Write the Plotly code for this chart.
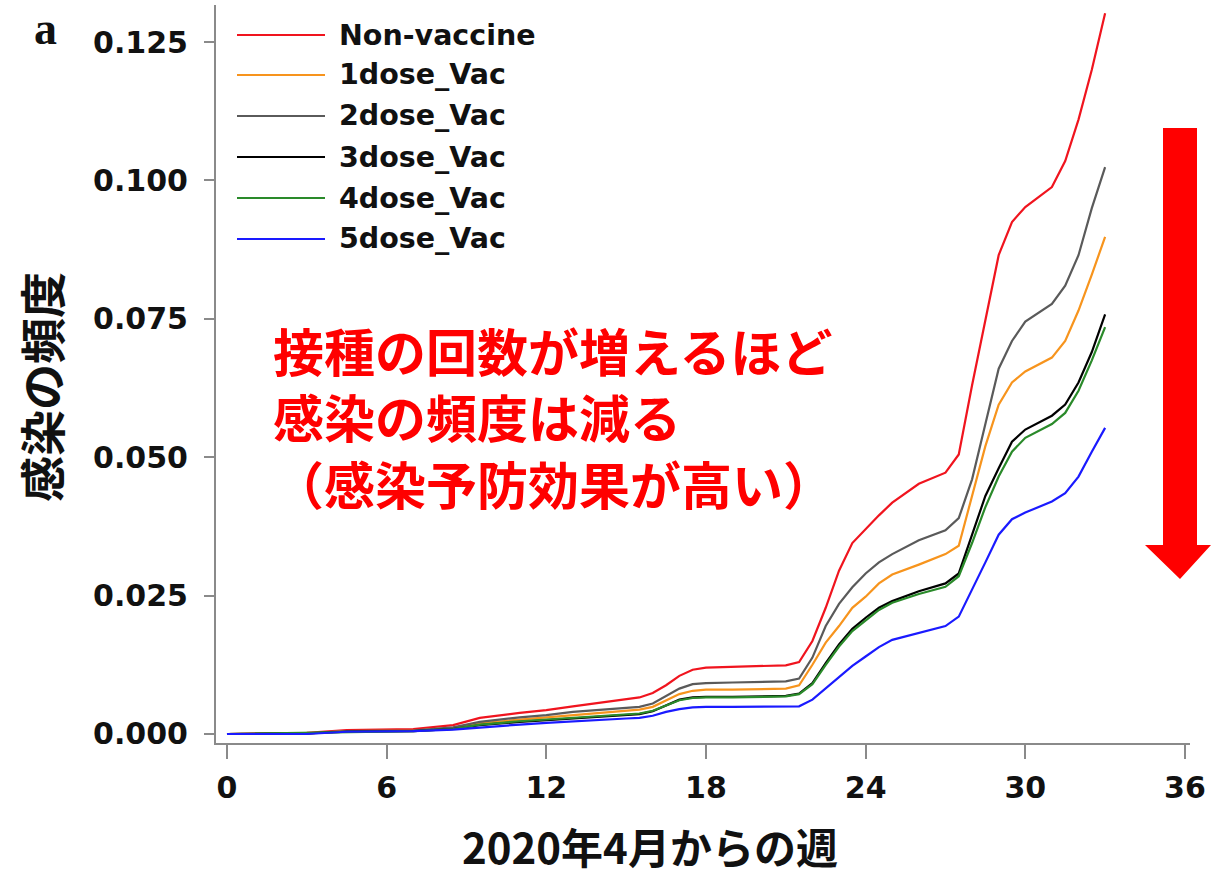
import plotly.graph_objects as go

# Weeks since April 2020 at which the cumulative infection frequency is sampled
weeks = [0, 3, 4.5, 7, 8.5, 9.5, 11, 12, 13, 14, 15, 15.5, 16, 16.5, 17, 17.5,
         18, 19, 20, 21, 21.5, 22, 22.5, 23, 23.5, 24, 24.5, 25, 26, 27, 27.5,
         28, 28.5, 29, 29.5, 30, 31, 31.5, 32, 32.5, 33]

non_vaccine = [0, 0.0002, 0.0007, 0.0009, 0.0016, 0.0029, 0.0038, 0.0043, 0.0050,
               0.0056, 0.0063, 0.0066, 0.0074, 0.0088, 0.0105, 0.0116, 0.0120,
               0.0121, 0.0122, 0.0124, 0.0130, 0.0168, 0.0228, 0.0295, 0.0345,
               0.0370, 0.0395, 0.0418, 0.0452, 0.0472, 0.0505, 0.0630, 0.0750,
               0.0865, 0.0925, 0.0952, 0.0988, 0.1035, 0.1110, 0.1200, 0.1302]
dose1 = [0, 0.0001, 0.0005, 0.0006, 0.0011, 0.0019, 0.0026, 0.0030, 0.0035,
         0.0039, 0.0042, 0.0044, 0.0049, 0.0060, 0.0072, 0.0078, 0.0080, 0.0080,
         0.0081, 0.0082, 0.0088, 0.0125, 0.0165, 0.0195, 0.0228, 0.0248, 0.0272,
         0.0288, 0.0306, 0.0325, 0.0340, 0.0430, 0.0520, 0.0595, 0.0635, 0.0655,
         0.0680, 0.0710, 0.0765, 0.0830, 0.0898]
dose2 = [0, 0.0001, 0.0005, 0.0006, 0.0012, 0.0022, 0.0030, 0.0034, 0.0040,
         0.0044, 0.0047, 0.0049, 0.0055, 0.0068, 0.0082, 0.0090, 0.0092, 0.0093,
         0.0094, 0.0095, 0.0100, 0.0138, 0.0195, 0.0235, 0.0265, 0.0290, 0.0310,
         0.0325, 0.0350, 0.0368, 0.0390, 0.0460, 0.0560, 0.0660, 0.0710, 0.0745,
         0.0777, 0.0810, 0.0865, 0.0950, 0.1024]
dose3 = [0, 0.0001, 0.0004, 0.0005, 0.0009, 0.0016, 0.0022, 0.0025, 0.0029,
         0.0032, 0.0034, 0.0036, 0.0041, 0.0052, 0.0062, 0.0066, 0.0067, 0.0067,
         0.0068, 0.0069, 0.0073, 0.0092, 0.0128, 0.0162, 0.0190, 0.0210, 0.0228,
         0.0240, 0.0258, 0.0272, 0.0290, 0.0360, 0.0430, 0.0480, 0.0528, 0.0550,
         0.0575, 0.0595, 0.0635, 0.0690, 0.0758]
dose4 = [0, 0.0002, 0.0004, 0.0005, 0.0009, 0.0017, 0.0023, 0.0026, 0.0030,
         0.0033, 0.0035, 0.0037, 0.0042, 0.0052, 0.0061, 0.0065, 0.0066, 0.0066,
         0.0067, 0.0068, 0.0072, 0.0090, 0.0125, 0.0158, 0.0186, 0.0205, 0.0224,
         0.0237, 0.0253, 0.0266, 0.0285, 0.0345, 0.0410, 0.0465, 0.0510, 0.0535,
         0.0560, 0.0580, 0.0620, 0.0675, 0.0735]
dose5 = [0, 0, 0.0004, 0.0005, 0.0008, 0.0012, 0.0017, 0.0020, 0.0023, 0.0025,
         0.0028, 0.0029, 0.0033, 0.0040, 0.0045, 0.0048, 0.0049, 0.0049, 0.0049,
         0.0049, 0.0050, 0.0062, 0.0082, 0.0102, 0.0123, 0.0140, 0.0157, 0.0170,
         0.0183, 0.0195, 0.0212, 0.0260, 0.0310, 0.0360, 0.0388, 0.0400, 0.0420,
         0.0435, 0.0465, 0.0510, 0.0553]

series_names = ["Non-vaccine", "1dose_Vac", "2dose_Vac", "3dose_Vac", "4dose_Vac", "5dose_Vac"]
series_values = [non_vaccine, dose1, dose2, dose3, dose4, dose5]
series_colors = ["#f0141e", "#f7941d", "#5a5a5a", "#000000", "#2a8a2a", "#1a1aff"]

x_ticks = [0, 6, 12, 18, 24, 30, 36]
y_ticks = [0.000, 0.025, 0.050, 0.075, 0.100, 0.125]

note_lines = ["接種の回数が増えるほど", "感染の頻度は減る", "（感染予防効果が高い）"]
x_title = "2020年4月からの週"
y_title = "感染の頻度"
panel_label = "a"

W, H = 1211, 875
L, R, T, B = 216, 21, 5, 132
PW, PH = W - L - R, H - T - B


def px_x(p):
    return (p - L) / PW


def px_y(p):
    return (H - B - p) / PH


fig = go.Figure()
# Draw order keeps the red curve underneath, blue on top
for name, vals, col in zip(series_names, series_values, series_colors):
    fig.add_trace(go.Scatter(x=weeks, y=vals, mode="lines", name=name,
                             line=dict(color=col, width=2.2), showlegend=False))

tick_font = dict(family="DejaVu Sans", size=30, color="#111111", weight="bold")
axis_common = dict(showline=True, linecolor="#8a8a8a", linewidth=2, ticks="outside",
                   tickcolor="#8a8a8a", tickwidth=2, showgrid=False, zeroline=False,
                   tickfont=tick_font)

fig.update_xaxes(range=[-0.413, 36.19], tickvals=x_ticks, ticklen=14,
                 ticklabelstandoff=3, **axis_common)
fig.update_yaxes(range=[-0.00163, 0.1317], tickvals=y_ticks, tickformat=".3f",
                 ticklen=10, ticklabelstandoff=10, **axis_common)

annotations = []
shapes = []

# Legend drawn as line samples with labels
leg_rows = [35, 75, 116, 157, 198, 239]
for name, col, ry in zip(series_names, series_colors, leg_rows):
    shapes.append(dict(type="line", xref="paper", yref="paper",
                       x0=px_x(237), x1=px_x(325), y0=px_y(ry), y1=px_y(ry),
                       line=dict(color=col, width=2)))
    annotations.append(dict(text=name, xref="paper", yref="paper", x=px_x(337),
                            y=px_y(ry), xanchor="left", yanchor="middle", showarrow=False,
                            font=dict(family="DejaVu Sans", size=28.5, color="#111111",
                                      weight="bold")))

# Red note in the middle of the plot (three lines in one block)
annotations.append(dict(text="<br>".join(note_lines), xref="paper", yref="paper",
                        x=px_x(271), y=px_y(417), xanchor="left", yanchor="middle",
                        align="left", showarrow=False,
                        font=dict(family="Noto Sans CJK JP", size=51, color="#ff0000",
                                  weight="bold")))

# Axis titles and panel label
annotations.append(dict(text=x_title, xref="paper", yref="paper", x=px_x(650),
                        y=px_y(845), xanchor="center", yanchor="middle", showarrow=False,
                        font=dict(family="Noto Sans CJK JP", size=42, color="#111111",
                                  weight="bold")))
annotations.append(dict(text=y_title, xref="paper", yref="paper", x=px_x(40),
                        y=px_y(387), xanchor="center", yanchor="middle", showarrow=False,
                        textangle=-90,
                        font=dict(family="Noto Sans CJK JP", size=46, color="#111111",
                                  weight="bold")))
annotations.append(dict(text=panel_label, xref="paper", yref="paper", x=px_x(45),
                        y=px_y(29), xanchor="center", yanchor="middle", showarrow=False,
                        font=dict(family="Liberation Serif", size=46, color="#111111",
                                  weight="bold")))

# Big downward arrow on the right
pts = [(1163, 128), (1197, 128), (1197, 545), (1211, 545), (1180, 579),
       (1145, 545), (1163, 545)]
path = "M " + " L ".join(f"{px_x(a):.5f},{px_y(b):.5f}" for a, b in pts) + " Z"
shapes.append(dict(type="path", xref="paper", yref="paper", path=path,
                   fillcolor="#ff0000", line=dict(width=0)))

fig.update_layout(width=W, height=H, margin=dict(l=L, r=R, t=T, b=B, autoexpand=False),
                  paper_bgcolor="white", plot_bgcolor="white",
                  annotations=annotations, shapes=shapes)

fig.write_html("out.html")
